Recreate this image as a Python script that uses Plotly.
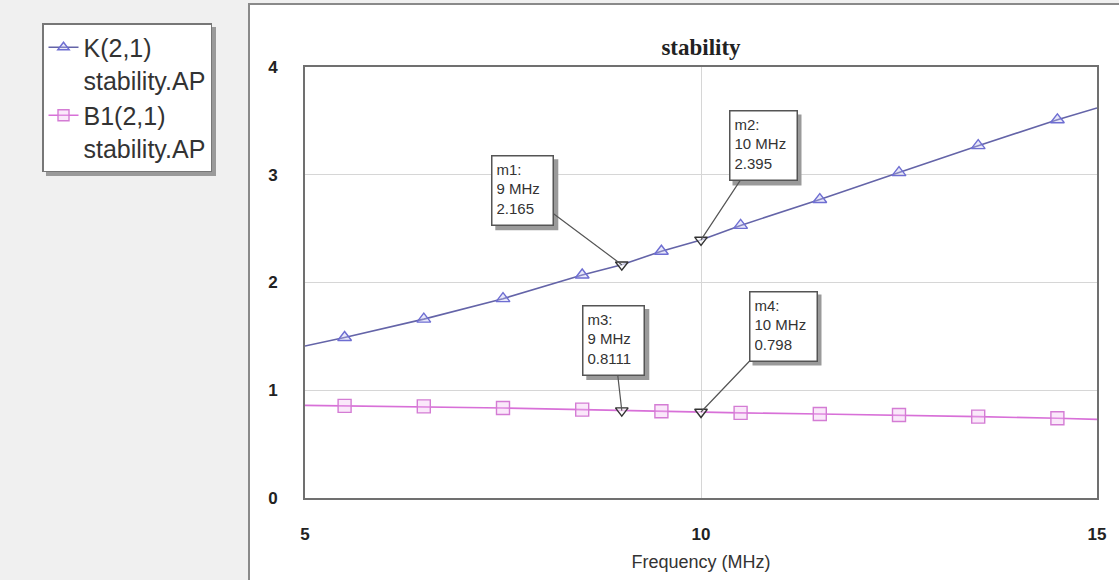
import plotly.graph_objects as go

# ---------------- data ----------------
freq = [5, 5.5, 6.5, 7.5, 8.5, 9, 9.5, 10, 10.5, 11.5, 12.5, 13.5, 14.5, 15]
k_vals = [1.41, 1.49, 1.66, 1.85, 2.07, 2.165, 2.29, 2.395, 2.53, 2.77, 3.02, 3.27, 3.51, 3.62]
b1_vals = [0.86, 0.855, 0.85, 0.835, 0.82, 0.8111, 0.805, 0.798, 0.79, 0.78, 0.77, 0.755, 0.74, 0.73]
symbol_freq = [5.5, 6.5, 7.5, 8.5, 9.5, 10.5, 11.5, 12.5, 13.5, 14.5]

marker_names = ["m1", "m2", "m3", "m4"]
marker_freq = [9, 10, 9, 10]
marker_vals = [2.165, 2.395, 0.8111, 0.798]

series_names = ["K(2,1)<br>stability.AP", "B1(2,1)<br>stability.AP"]
x_range = [5, 15]
y_range = [0, 4]
x_ticks = [5, 10, 15]
y_ticks = [0, 1, 2, 3, 4]

# ---------------- styles ----------------
K_LINE = "#6464a8"
K_MARK = "#6e6ed2"
B_LINE = "#d870d8"
B_MARK = "#d47cd4"
FONT = "Liberation Sans, Arial, sans-serif"

W, H = 1119, 580
L, R, T, B = 305, 22, 67, 82
PW, PH = W - L - R, H - T - B

def px_x(p):
    return (p - L) / PW

def px_y(p):
    return (H - B - p) / PH

fig = go.Figure()

series = [
    (k_vals, K_LINE, K_MARK, "triangle-up", 12, "rgba(190,190,240,0.35)"),
    (b1_vals, B_LINE, B_MARK, "square", 13, "rgba(240,190,240,0.35)"),
]
for (vals, lc, mc, sym, sz, fill), name in zip(series, series_names):
    fig.add_trace(go.Scatter(x=freq, y=vals, mode="lines",
                             line=dict(color=lc, width=1.6), showlegend=False,
                             hoverinfo="skip"))
    fig.add_trace(go.Scatter(x=symbol_freq,
                             y=[vals[freq.index(f)] for f in symbol_freq],
                             mode="markers", showlegend=False,
                             marker=dict(symbol=sym, size=sz, color=fill,
                                         line=dict(color=mc, width=1.4))))
    fig.add_trace(go.Scatter(x=[None], y=[None], mode="lines+markers", name=name,
                             line=dict(color=lc, width=1.6),
                             marker=dict(symbol=sym, size=sz - 2, color=fill,
                                         line=dict(color=mc, width=1.4))))

fig.add_trace(go.Scatter(x=marker_freq, y=marker_vals, mode="markers",
                         showlegend=False,
                         marker=dict(symbol="triangle-down", size=11,
                                     color="rgba(255,255,255,0.6)",
                                     line=dict(color="#333333", width=1.4))))

# marker annotation boxes: (ax, ay) pixel offsets of box centre, text width
offsets = [(-99, -74), (62, -94), (-8, -70), (82, -86)]
box_w = [52, 58, 52, 58]
BOX_H = 60
PAD = 4
BW = 1.5
SH = 4  # shadow offset in px
annotations = []
shapes = [
    dict(type="rect", xref="paper", yref="paper", x0=px_x(249), x1=px_x(1130),
         y0=px_y(590), y1=px_y(4), fillcolor="white",
         line=dict(color="#8a8a8a", width=2), layer="below"),
    # legend shadow
    dict(type="rect", xref="paper", yref="paper", x0=px_x(46), x1=px_x(216),
         y0=px_y(176), y1=px_y(27), fillcolor="#9a9a9a", line=dict(width=0),
         layer="below"),
]
for name, f, v, (ax, ay), w in zip(marker_names, marker_freq, marker_vals, offsets, box_w):
    # box drop shadow, placed relative to the point through the axis ranges
    xp = (f - x_range[0]) / (x_range[1] - x_range[0])
    yp = (v - y_range[0]) / (y_range[1] - y_range[0])
    tw = w + 2 * PAD + 2 * BW
    th = BOX_H + 2 * PAD + 2 * BW
    shapes.append(dict(type="rect", xref="paper", yref="paper",
                       x0=xp + (ax - tw / 2 + SH) / PW, x1=xp + (ax + tw / 2 + SH) / PW,
                       y0=yp + (-ay - th / 2 - SH) / PH, y1=yp + (-ay + th / 2 - SH) / PH,
                       fillcolor="#9a9a9a", line=dict(width=0), layer="above"))
    txt = f"{name}:<br>{f:g} MHz<br>{v}"
    annotations.append(dict(x=f, y=v, xref="x", yref="y", text=txt, showarrow=True,
                            ax=ax, ay=ay, arrowhead=0, arrowwidth=1.2, arrowcolor="#555555",
                            align="left", valign="top", width=w, height=BOX_H,
                            font=dict(family=FONT, size=15, color="#333333"),
                            bgcolor="white", bordercolor="#555555", borderwidth=BW,
                            borderpad=PAD))

fig.update_layout(
    width=W, height=H,
    margin=dict(l=L, r=R, t=T, b=B),
    paper_bgcolor="#f0f0f0",
    plot_bgcolor="white",
    font=dict(family=FONT, color="#333333"),
    title=dict(text="<b>stability</b>", x=701 / W, xanchor="center",
               y=1 - 47 / H, yanchor="middle", yref="container", xref="container",
               font=dict(family="Liberation Serif, Times New Roman, serif", size=23,
                         color="#222222")),
    xaxis=dict(range=x_range, tickvals=x_ticks, showgrid=True, gridcolor="#d6d6d6",
               gridwidth=1, zeroline=False, showline=True, linecolor="#707070",
               linewidth=2, mirror=True, ticks="", ticklabelstandoff=20,
               tickfont=dict(family=FONT, size=17, color="#222222", weight="bold"),
               title=dict(text="Frequency (MHz)", standoff=12,
                          font=dict(family=FONT, size=18, color="#333333"))),
    yaxis=dict(range=y_range, tickvals=y_ticks, showgrid=True, gridcolor="#d6d6d6",
               gridwidth=1, zeroline=False, showline=True, linecolor="#707070",
               linewidth=2, mirror=True, ticks="", ticklabelstandoff=22,
               tickfont=dict(family=FONT, size=17, color="#222222", weight="bold")),
    legend=dict(x=px_x(42), y=px_y(23), xanchor="left", yanchor="top",
                bgcolor="white", bordercolor="#777777", borderwidth=1.5,
                font=dict(family=FONT, size=25, color="#333333"),
                valign="top", tracegroupgap=2, itemwidth=30),
    annotations=annotations,
    shapes=shapes,
    showlegend=True,
)

fig.write_html("out.html")
